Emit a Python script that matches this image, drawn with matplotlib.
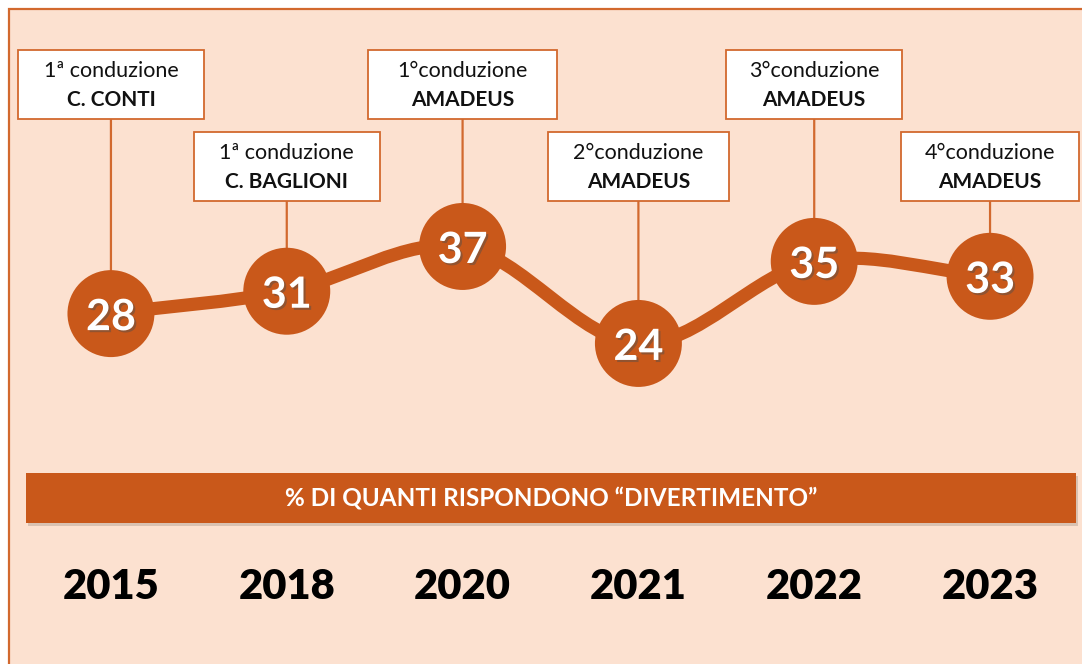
import matplotlib
matplotlib.use("Agg")
import matplotlib.pyplot as plt
from matplotlib.patches import Rectangle, PathPatch
from matplotlib.path import Path
import matplotlib.transforms as mtransforms
import matplotlib.patheffects as pe

# ---- data ----
years = ["2015", "2018", "2020", "2021", "2022", "2023"]
values = [28, 31, 37, 24, 35, 33]
label_line1 = ["1ª conduzione", "1ª conduzione", "1°conduzione",
               "2°conduzione", "3°conduzione", "4°conduzione"]
label_line2 = ["C. CONTI", "C. BAGLIONI", "AMADEUS",
               "AMADEUS", "AMADEUS", "AMADEUS"]
banner_text = "% DI QUANTI RISPONDONO “DIVERTIMENTO”"

# ---- style ----
BG = "#FCE1D0"
ORANGE = "#C9581A"
EDGE = "#D2692E"
FONT = ["Lato", "DejaVu Sans"]
plt.rcParams["font.family"] = FONT

W, H = 1082, 664
fig = plt.figure(figsize=(W / 100, H / 100), dpi=100)
fig.patch.set_facecolor("white")

deco = fig.add_axes([0, 0, 1, 1], zorder=0)
deco.set_xlim(0, W)
deco.set_ylim(H, 0)
deco.axis("off")

ax = fig.add_axes([0, 0, 1, 1], zorder=1)
ax.patch.set_alpha(0)
ax.set_xlim(-0.631, 5.523)
ax.set_ylim(-18.97, 70.04)
ax.axis("off")

bt = mtransforms.blended_transform_factory(ax.transData, deco.transData)

# background panel with border
deco.add_patch(Rectangle((8.5, 9), W + 20, H + 20, facecolor=BG,
                         edgecolor=EDGE, lw=1.6, zorder=0))

# banner
deco.add_patch(Rectangle((28, 476), 1050, 50, facecolor="#D9C2B2",
                         edgecolor="none", zorder=1))
deco.add_patch(Rectangle((26, 473), 1050, 50, facecolor=ORANGE,
                         edgecolor="none", zorder=2))
deco.text(551, 498, banner_text, color="white", fontsize=17.5,
          fontweight="bold", ha="center", va="center", zorder=3)

xs = list(range(len(values)))

# smooth line (Catmull-Rom -> cubic Bezier)
verts = [(xs[0], values[0])]
codes = [Path.MOVETO]
n = len(values)
def tangent(i):
    if i == 0:
        return (xs[1] - xs[0], values[1] - values[0])
    if i == n - 1:
        return (xs[-1] - xs[-2], values[-1] - values[-2])
    return ((xs[i + 1] - xs[i - 1]) / 2, (values[i + 1] - values[i - 1]) / 2)
for i in range(n - 1):
    t0, t1 = tangent(i), tangent(i + 1)
    verts += [(xs[i] + t0[0] / 3, values[i] + t0[1] / 3),
              (xs[i + 1] - t1[0] / 3, values[i + 1] - t1[1] / 3),
              (xs[i + 1], values[i + 1])]
    codes += [Path.CURVE4] * 3
ax.add_patch(PathPatch(Path(verts, codes), facecolor="none",
                       edgecolor=ORANGE, lw=9.5, capstyle="round", zorder=3))

# label boxes and connectors
box_w_px = [186, 186, 189, 181, 176, 178]
px_per_unit = 175.8
for i, v in enumerate(values):
    top = 50 if i % 2 == 0 else 132
    h = 69
    ax.annotate("", xy=(i, v), xycoords="data", xytext=(i, top + h),
                textcoords=bt,
                arrowprops=dict(arrowstyle="-", color=EDGE, lw=1.6,
                                shrinkA=0, shrinkB=0),
                zorder=2)
    w = box_w_px[i] / px_per_unit
    ax.add_patch(Rectangle((i - w / 2, top), w, h, transform=bt,
                           facecolor="white", edgecolor=EDGE, lw=1.3, zorder=4))
    ax.text(i, top + 21, label_line1[i], transform=bt, fontsize=15.5,
            ha="center", va="center", color="#111111", zorder=5)
    ax.text(i, top + 50, label_line2[i], transform=bt, fontsize=15,
            fontweight="bold", ha="center", va="center", color="#111111", zorder=5)

ax.scatter(xs, values, s=3920, color=ORANGE, edgecolors="none", zorder=6)
for i, v in enumerate(values):
    ax.text(i, v, str(v), fontsize=31, fontweight="bold", color="white",
            ha="center", va="center_baseline", zorder=7,
            path_effects=[pe.SimplePatchShadow(offset=(1.5, -1.5), alpha=0.45),
                          pe.Normal()])

# years
for i, y in enumerate(years):
    ax.text(i, 587, y, transform=bt, fontsize=30, fontweight="heavy",
            ha="center", va="center", color="black", zorder=5)

fig.savefig("out.png", dpi=100, facecolor=fig.get_facecolor())
